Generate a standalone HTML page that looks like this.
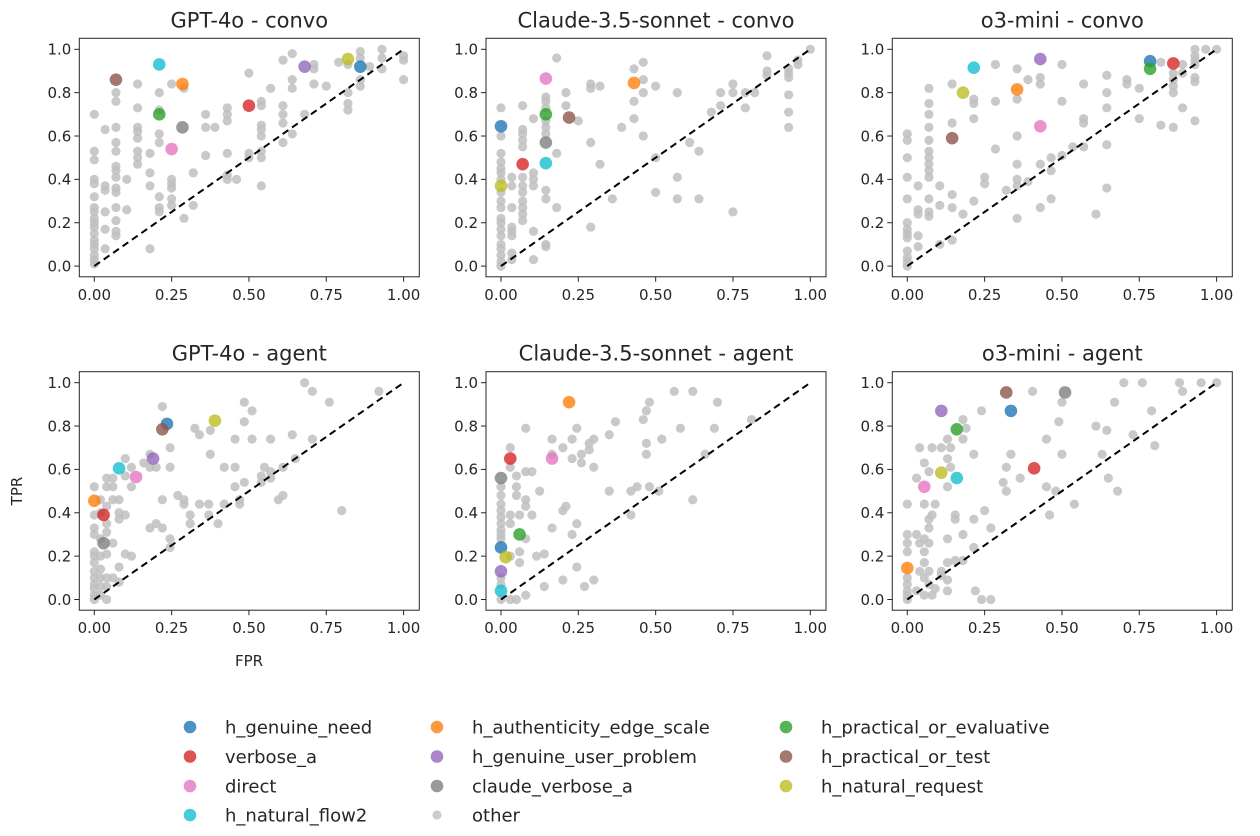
<!DOCTYPE html>
<html><head><meta charset="utf-8">
<style>
html,body{margin:0;padding:0;background:#fff;}
svg{display:block;font-family:"DejaVu Sans","Liberation Sans",sans-serif;}
</style></head>
<body>
<svg id="fig" width="1260" height="836" viewBox="0 0 1260 836" xmlns="http://www.w3.org/2000/svg"></svg>
<script>
// ---- data ----
const categories = ["h_genuine_need","verbose_a","direct","h_natural_flow2","h_authenticity_edge_scale","h_genuine_user_problem","claude_verbose_a","other","h_practical_or_evaluative","h_practical_or_test","h_natural_request"];
const catColors = {h_genuine_need:"#1f77b4",verbose_a:"#d62728",direct:"#e377c2",h_natural_flow2:"#17becf",h_authenticity_edge_scale:"#ff7f0e",h_genuine_user_problem:"#9467bd",claude_verbose_a:"#7f7f7f",other:"#bfbfbf",h_practical_or_evaluative:"#2ca02c",h_practical_or_test:"#8c564b",h_natural_request:"#bcbd22"};
const panelTitles = ["GPT-4o - convo","Claude-3.5-sonnet - convo","o3-mini - convo","GPT-4o - agent","Claude-3.5-sonnet - agent","o3-mini - agent"];
const xTicks = [0,0.25,0.5,0.75,1];
const xTickLabels = ["0.00","0.25","0.50","0.75","1.00"];
const yTicks = [0,0.2,0.4,0.6,0.8,1];
const yTickLabels = ["0.0","0.2","0.4","0.6","0.8","1.0"];

// highlighted points per panel: [category, FPR, TPR]
const hl0 = [["h_practical_or_test",0.07,0.86],["h_natural_flow2",0.21,0.93],["h_authenticity_edge_scale",0.285,0.84],["h_practical_or_evaluative",0.21,0.70],["claude_verbose_a",0.285,0.64],["direct",0.25,0.54],["verbose_a",0.50,0.74],["h_genuine_user_problem",0.68,0.92],["h_natural_request",0.82,0.955],["h_genuine_need",0.86,0.92]];
const hl1 = [["h_genuine_need",0,0.645],["h_natural_request",0,0.37],["verbose_a",0.07,0.47],["direct",0.145,0.865],["h_practical_or_evaluative",0.145,0.70],["claude_verbose_a",0.145,0.57],["h_natural_flow2",0.145,0.475],["h_practical_or_test",0.22,0.685],["h_authenticity_edge_scale",0.43,0.845]];
const hl2 = [["h_genuine_need",0.785,0.945],["verbose_a",0.86,0.935],["h_practical_or_evaluative",0.785,0.91],["h_genuine_user_problem",0.43,0.955],["h_natural_flow2",0.215,0.915],["h_natural_request",0.18,0.80],["h_authenticity_edge_scale",0.355,0.815],["direct",0.43,0.645],["h_practical_or_test",0.145,0.59]];
const hl3 = [["h_genuine_need",0.235,0.81],["h_practical_or_test",0.22,0.785],["h_natural_request",0.39,0.825],["h_genuine_user_problem",0.19,0.65],["h_natural_flow2",0.08,0.605],["direct",0.135,0.565],["h_authenticity_edge_scale",0,0.455],["verbose_a",0.03,0.39],["claude_verbose_a",0.03,0.26]];
const hl4 = [["h_authenticity_edge_scale",0.22,0.91],["verbose_a",0.03,0.65],["direct",0.165,0.65],["claude_verbose_a",0,0.56],["h_practical_or_evaluative",0.06,0.30],["h_genuine_need",0,0.24],["h_natural_request",0.015,0.195],["h_genuine_user_problem",0,0.13],["h_natural_flow2",0,0.04]];
const hl5 = [["h_practical_or_test",0.32,0.955],["claude_verbose_a",0.51,0.955],["h_genuine_user_problem",0.11,0.87],["h_genuine_need",0.335,0.87],["h_practical_or_evaluative",0.16,0.785],["verbose_a",0.41,0.605],["h_natural_request",0.11,0.585],["h_natural_flow2",0.16,0.56],["direct",0.055,0.52],["h_authenticity_edge_scale",0,0.145]];

// "other" points per panel grouped as [FPR, [TPR values]]
const other0 = [[0,[0.70,0.53,0.49,0.40,0.38,0.32,0.27,0.25,0.22,0.2,0.18,0.15,0.12,0.1,0.08,0.05,0.03,0.01]],[0.035,[0.63,0.37,0.35,0.25,0.17,0.08]],[0.07,[0.80,0.76,0.64,0.57,0.53,0.46,0.44,0.41,0.36,0.34,0.27,0.21,0.16,0.14]],[0.105,[0.40,0.26]],[0.14,[0.84,0.73,0.64,0.62,0.59,0.53,0.5,0.47]],[0.18,[0.52,0.43,0.37,0.08]],[0.21,[0.80,0.72,0.61,0.57,0.32,0.27,0.25]],[0.25,[0.84,0.40,0.38,0.36,0.31,0.28]],[0.29,[0.82,0.22]],[0.32,[0.43,0.28]],[0.36,[0.70,0.64,0.51]],[0.39,[0.64]],[0.43,[0.73,0.70,0.67,0.52,0.42,0.40]],[0.46,[0.40]],[0.50,[0.89,0.52,0.50]],[0.54,[0.76,0.74,0.65,0.63,0.60,0.53,0.50,0.37]],[0.57,[0.82]],[0.61,[0.95,0.74,0.70,0.66,0.57]],[0.64,[0.98,0.86,0.82,0.61]],[0.68,[0.70]],[0.71,[0.93,0.91,0.84]],[0.75,[0.83]],[0.79,[0.94]],[0.82,[0.80,0.75,0.72,0.93]],[0.86,[0.99,0.96,0.86,0.83]],[0.89,[0.92]],[0.93,[1.0,0.96,0.91]],[1.0,[0.97,0.95,0.86]]];
const other1 = [[0,[0.73,0.60,0.52,0.48,0.45,0.43,0.40,0.34,0.30,0.27,0.22,0.2,0.17,0.14,0.1,0.08,0.05,0.02,0]],[0.035,[0.41,0.37,0.27,0.18,0.16,0.14,0.06,0.03]],[0.07,[0.74,0.63,0.61,0.58,0.55,0.41,0.37,0.34,0.30,0.27,0.24,0.21]],[0.105,[0.68,0.43,0.40,0.37,0.16,0.03]],[0.145,[0.78,0.76,0.73,0.67,0.64,0.61,0.35,0.31,0.10,0.09]],[0.18,[0.96,0.52,0.27]],[0.21,[0.80,0.74]],[0.25,[0.67]],[0.29,[0.84,0.82,0.57,0.18]],[0.32,[0.83,0.47]],[0.36,[0.31]],[0.39,[0.64]],[0.43,[0.91,0.76,0.68]],[0.46,[0.94,0.86,0.80,0.60]],[0.5,[0.83,0.50,0.34]],[0.57,[0.80,0.41,0.31]],[0.61,[0.57]],[0.64,[0.53,0.31]],[0.68,[0.71]],[0.71,[0.80,0.74]],[0.75,[0.84,0.80,0.25]],[0.79,[0.80,0.73]],[0.82,[0.80]],[0.86,[0.97,0.90,0.88]],[0.93,[0.91,0.89,0.87,0.79,0.71,0.64]],[0.96,[0.95,0.93]],[1.0,[1.0]]];
const other2 = [[0,[0.61,0.58,0.50,0.41,0.31,0.20,0.17,0.15,0.13,0.07,0.04,0.02,0]],[0.035,[0.37,0.26,0.24,0.14,0.09]],[0.07,[0.82,0.75,0.70,0.64,0.58,0.53,0.50,0.47,0.44,0.41,0.31,0.25,0.23]],[0.105,[0.37,0.28,0.10]],[0.145,[0.84,0.66,0.33,0.27,0.12]],[0.18,[0.24]],[0.215,[0.77,0.75,0.68,0.30]],[0.25,[0.41,0.38]],[0.285,[0.93,0.76,0.54]],[0.32,[0.35]],[0.355,[0.91,0.77,0.60,0.47,0.40,0.37,0.22]],[0.39,[0.86,0.39]],[0.43,[0.87,0.84,0.47,0.27]],[0.465,[0.50,0.44,0.31]],[0.50,[0.93,0.76,0.51]],[0.535,[0.55]],[0.57,[0.84,0.68,0.66,0.55]],[0.61,[0.24]],[0.645,[0.88,0.80,0.73,0.56,0.36]],[0.71,[0.86,0.84]],[0.75,[0.82,0.68]],[0.82,[0.94,0.65]],[0.86,[0.89,0.86,0.83,0.80,0.64]],[0.89,[0.93,0.89,0.73]],[0.93,[1.0,0.97,0.95,0.93,0.87,0.85,0.67]],[0.965,[1.0]],[1.0,[1.0]]];
const other3 = [[0,[0.52,0.39,0.33,0.3,0.22,0.2,0.17,0.13,0.1,0.07,0.05,0.02,0]],[0.02,[0.46,0.40,0.28,0.2,0.14,0.1,0.06,0.02]],[0.04,[0.56,0.52,0.43,0.35,0.31,0.21,0.1,0.06,0]],[0.06,[0.56,0.52,0.46,0.26,0.1]],[0.08,[0.46,0.40,0.37,0.15,0.08]],[0.1,[0.65,0.57,0.39,0.21]],[0.12,[0.61,0.52,0.20]],[0.16,[0.63]],[0.18,[0.67,0.61,0.33]],[0.2,[0.61,0.35]],[0.22,[0.89,0.46,0.33]],[0.245,[0.70,0.61,0.28,0.24]],[0.27,[0.48]],[0.29,[0.44,0.46]],[0.31,[0.39,0.35]],[0.325,[0.79]],[0.34,[0.76,0.44]],[0.37,[0.44,0.39]],[0.375,[0.67,0.78]],[0.40,[0.35]],[0.42,[0.61,0.44]],[0.455,[0.74,0.61,0.52]],[0.47,[0.46,0.44]],[0.485,[0.91,0.82,0.54]],[0.51,[0.87,0.74]],[0.54,[0.57,0.54]],[0.55,[0.61]],[0.57,[0.74,0.59,0.56]],[0.595,[0.46]],[0.61,[0.48,0.61]],[0.64,[0.76]],[0.65,[0.65]],[0.68,[1.0]],[0.705,[0.96,0.74]],[0.76,[0.91]],[0.8,[0.41]],[0.92,[0.96]]];
const other4 = [[0,[0.52,0.48,0.44,0.41,0.38,0.35,0.32,0.3,0.28,0.1,0.07,0]],[0.03,[0.70,0.61,0.39,0.35,0.2,0]],[0.05,[0.57,0.52,0.48,0]],[0.06,[0.39,0.22,0.17]],[0.08,[0.79,0.59,0.46,0.43,0.28,0.02]],[0.1,[0.59,0.39]],[0.115,[0.20]],[0.125,[0.50]],[0.14,[0.21,0.06]],[0.165,[0.74,0.67,0.33]],[0.20,[0.70,0.41,0.09]],[0.21,[0.43]],[0.23,[0.74,0.65,0.30]],[0.245,[0.79,0.35,0.15]],[0.26,[0.67,0.63]],[0.27,[0.06]],[0.285,[0.72,0.69]],[0.30,[0.74,0.61,0.09]],[0.35,[0.76,0.50]],[0.37,[0.82]],[0.42,[0.39,0.50]],[0.44,[0.52]],[0.46,[0.83]],[0.47,[0.87,0.72,0.67]],[0.48,[0.91,0.52]],[0.51,[0.50]],[0.52,[0.74]],[0.56,[0.96]],[0.58,[0.79]],[0.62,[0.96,0.46]],[0.66,[0.67]],[0.69,[0.79]],[0.70,[0.91]],[0.81,[0.83]]];
const other5 = [[0,[0.44,0.30,0.26,0.22,0.1,0.07,0.04,0.02,0]],[0.03,[0.56,0.30,0.04]],[0.04,[0.70,0.26,0.13]],[0.055,[0.63,0.44,0.28,0.22,0.17,0.1,0.02]],[0.07,[0.59,0.37,0.33,0.26,0.13,0.07]],[0.08,[0.70,0.39,0.02]],[0.09,[0.44,0.05]],[0.11,[0.70,0.13,0.11]],[0.13,[0.74,0.65,0.52,0.28,0.17,0.09,0.04]],[0.14,[0.70,0.61]],[0.155,[0.39,0.37,0.18]],[0.18,[0.83,0.74,0.30,0.18]],[0.19,[0.79]],[0.215,[0.67,0.37,0.24]],[0.22,[0.04]],[0.24,[0.87,0]],[0.25,[0.41]],[0.27,[0.33,0]],[0.31,[0.54]],[0.32,[0.61,0.50]],[0.335,[0.67]],[0.365,[0.56]],[0.405,[0.96]],[0.45,[0.74,0.52]],[0.46,[0.39]],[0.48,[0.50]],[0.49,[0.82]],[0.5,[0.91,0.67]],[0.54,[0.44]],[0.61,[0.80]],[0.63,[0.67]],[0.645,[0.78]],[0.65,[0.56]],[0.67,[0.91]],[0.68,[0.50]],[0.70,[1.0]],[0.73,[0.76]],[0.76,[1.0]],[0.79,[0.87]],[0.80,[0.71]],[0.88,[1.0]],[0.89,[0.96]],[0.95,[1.0]],[1.0,[1.0]]];

const highlights = [hl0,hl1,hl2,hl3,hl4,hl5];
const others = [other0,other1,other2,other3,other4,other5];

// ---- layout ----
const NS = "http://www.w3.org/2000/svg";
const svg = document.getElementById("fig");
function mk(tag, attrs, parent){
  const e = document.createElementNS(NS, tag);
  for (const k in attrs) e.setAttribute(k, attrs[k]);
  (parent||svg).appendChild(e);
  return e;
}
const colLeft = [79.3, 486, 892.3];
const frameW = 340;
const rowTop = [38.3, 371.7];
const frameH = 238.5;

for (let p = 0; p < 6; p++) {
  const col = p % 3, row = Math.floor(p / 3);
  const L = colLeft[col], T = rowTop[row], R = L + frameW, B = T + frameH;
  const x0 = L + 15, x1 = R - 15.7, yTop = T + 11, yBot = B - 10.7;
  const sx = v => x0 + v * (x1 - x0);
  const sy = v => yBot - v * (yBot - yTop);
  const g = mk("g", {});
  
  

  const title = mk("text", {x:(L+R)/2, y:T-11, "text-anchor":"middle", "font-size":"21", fill:"#262626"}, g);
  title.textContent = panelTitles[p];
  
  

  const og = mk("g", {}, g);
  
  
  for (const [fx, ys] of others[p]) {
    for (const ty of ys) {
      const c = mk("circle", {cx:sx(fx), cy:sy(ty), r:4.6, fill:catColors.other, "fill-opacity":0.85}, og);
      
      
    }
  }
  const d = mk("line", {x1:sx(0), y1:sy(0), x2:sx(1), y2:sy(1), stroke:"#000", "stroke-width":2, "stroke-dasharray":"7,4.5"}, g);
  
  
  for (const [cat, fx, ty] of highlights[p]) {
    const c = mk("circle", {cx:sx(fx), cy:sy(ty), r:6.3, fill:catColors[cat], "fill-opacity":0.8}, g);
    
    
  }
  const fr = mk("rect", {x:L, y:T, width:frameW, height:frameH, fill:"none", stroke:"#262626", "stroke-width":1}, g);
  
  
  xTicks.forEach((v, i) => {
    mk("line", {x1:sx(v), y1:B, x2:sx(v), y2:B+5, stroke:"#262626", "stroke-width":1}, g);
    const t = mk("text", {x:sx(v), y:B+23, "text-anchor":"middle", "font-size":"15", fill:"#262626"}, g);
    t.textContent = xTickLabels[i];
    
    
  });
  yTicks.forEach((v, i) => {
    mk("line", {x1:L-5, y1:sy(v), x2:L, y2:sy(v), stroke:"#262626", "stroke-width":1}, g);
    const t = mk("text", {x:L-8, y:sy(v)+5.3, "text-anchor":"end", "font-size":"15", fill:"#262626"}, g);
    t.textContent = yTickLabels[i];
    
    
  });
}

const fpr = mk("text", {x:249, y:666, "text-anchor":"middle", "font-size":"15", fill:"#262626"});
fpr.textContent = "FPR";


const tpr = mk("text", {x:0, y:0, "text-anchor":"middle", "font-size":"15", fill:"#262626", transform:"translate(22,491) rotate(-90)"});
tpr.textContent = "TPR";



const legendCols = [["h_genuine_need","verbose_a","direct","h_natural_flow2"],["h_authenticity_edge_scale","h_genuine_user_problem","claude_verbose_a","other"],["h_practical_or_evaluative","h_practical_or_test","h_natural_request"]];
const legMarkX = [190, 437, 786];
const legRowY = [727, 756.5, 786, 815];
const lg = mk("g", {});


legendCols.forEach((cats, ci) => {
  cats.forEach((cat, ri) => {
    const e = mk("g", {}, lg);
    
    
    mk("circle", {cx:legMarkX[ci], cy:legRowY[ri], r: cat==="other"?4.6:6.3, fill:catColors[cat], "fill-opacity":0.8}, e);
    const t = mk("text", {x:legMarkX[ci]+35, y:legRowY[ri]+6.5, "font-size":"18", fill:"#262626"}, e);
    t.textContent = cat;
  });
});
</script>
</body></html>
